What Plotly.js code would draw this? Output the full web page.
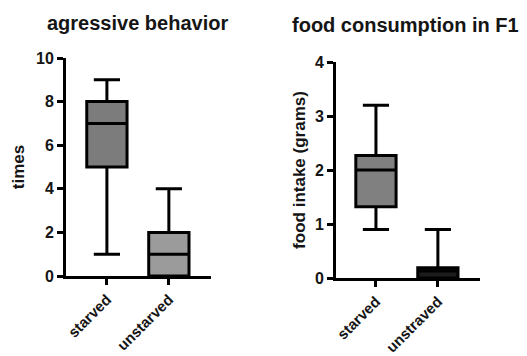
<!DOCTYPE html>
<html>
<head>
<meta charset="utf-8">
<script src="https://cdn.plot.ly/plotly-3.0.1.min.js"></script>
<style>html,body{margin:0;padding:0;background:#fff;}#chart{width:527px;height:356px;}</style>
</head>
<body>
<div id="chart"></div>
<script>
// Panel 1: aggressive behavior (times)
const catsA = ["starved", "unstarved"];
const minA = [1, 0];
const q1A = [5, 0];
const medA = [7, 1];
const q3A = [8, 2];
const maxA = [9, 4];
const fillA = ["#7c7c7c", "#9b9b9b"];

// Panel 2: food consumption in F1 (grams)
const catsB = ["starved", "unstraved"];
const minB = [0.9, 0];
const q1B = [1.32, 0];
const medB = [2.0, 0.13];
const q3B = [2.27, 0.19];
const maxB = [3.2, 0.9];
const fillB = ["#808080", "#1c1c1c"];

const titleA = "agressive behavior";
const titleB = "food consumption in F1";
const yTitleA = "times";
const yTitleB = "food intake (grams)";

const FONT = "Liberation Sans, Arial, sans-serif";
const W = 527, H = 356;
const LW = 3;

const traces = [];
catsA.forEach((c, i) => {
  traces.push({
    type: "box", x: [c], q1: [q1A[i]], median: [medA[i]], q3: [q3A[i]],
    lowerfence: [minA[i]], upperfence: [maxA[i]],
    xaxis: "x", yaxis: "y", fillcolor: fillA[i],
    line: {color: "#000", width: LW}, whiskerwidth: 0.65, width: 0.65,
    boxpoints: false, showlegend: false, hoverinfo: "skip"
  });
});
catsB.forEach((c, i) => {
  traces.push({
    type: "box", x: [c], q1: [q1B[i]], median: [medB[i]], q3: [q3B[i]],
    lowerfence: [minB[i]], upperfence: [maxB[i]],
    xaxis: "x2", yaxis: "y2", fillcolor: fillB[i],
    line: {color: "#000", width: LW}, whiskerwidth: 0.65, width: 0.65,
    boxpoints: false, showlegend: false, hoverinfo: "skip"
  });
});

const axisCommon = {
  showline: true, linecolor: "#000", linewidth: LW, showgrid: false, zeroline: false,
  ticks: "outside", ticklen: 6, tickwidth: LW, tickcolor: "#000",
  tickfont: {family: FONT, size: 16, color: "#151515", weight: "bold"}
};
const xtFont = {family: FONT, size: 15, color: "#151515", weight: "bold"};
const ytFont = {family: FONT, size: 17, color: "#151515", weight: "bold"};

const layout = {
  width: W, height: H,
  margin: {l: 0, r: 0, t: 0, b: 0},
  paper_bgcolor: "#fff", plot_bgcolor: "#fff",
  xaxis: Object.assign({}, axisCommon, {
    domain: [66 / W, 211 / W], anchor: "y", type: "category",
    range: [-0.66, 1.68], tickangle: -45, tickfont: xtFont
  }),
  yaxis: Object.assign({}, axisCommon, {
    domain: [1 - 276 / H, 1 - 58 / H], anchor: "x", range: [0, 10], dtick: 2,
    title: {text: yTitleA, font: ytFont, standoff: 8}
  }),
  xaxis2: Object.assign({}, axisCommon, {
    domain: [336 / W, 480 / W], anchor: "y2", type: "category",
    range: [-0.645, 1.68], tickangle: -45, tickfont: xtFont
  }),
  yaxis2: Object.assign({}, axisCommon, {
    domain: [1 - 278 / H, 1 - 62 / H], anchor: "x2", range: [0, 4], dtick: 1,
    title: {text: yTitleB, font: ytFont, standoff: 5}
  }),
  annotations: [
    {text: titleA, xref: "paper", yref: "paper", x: 137 / W, y: 1 - 23 / H,
     xanchor: "center", yanchor: "middle", showarrow: false,
     font: {family: FONT, size: 20, color: "#151515", weight: "bold"}},
    {text: titleB, xref: "paper", yref: "paper", x: 405 / W, y: 1 - 25 / H,
     xanchor: "center", yanchor: "middle", showarrow: false,
     font: {family: FONT, size: 20, color: "#151515", weight: "bold"}}
  ]
};

Plotly.newPlot("chart", traces, layout, {displayModeBar: false, staticPlot: true});
</script>
</body>
</html>
